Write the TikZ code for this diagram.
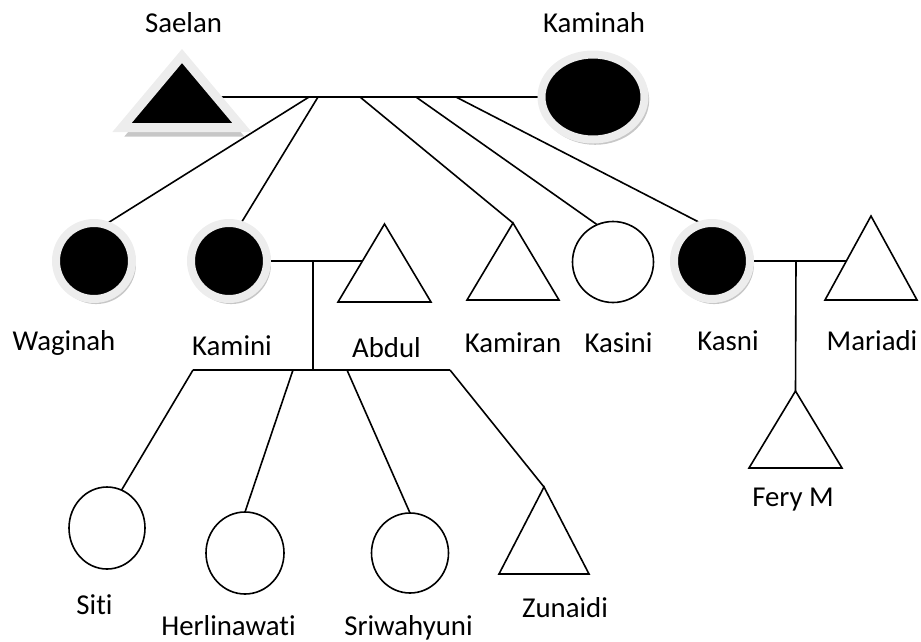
\documentclass[tikz,border=0pt]{standalone}
\usepackage{fontspec}
\setmainfont{Carlito}[Ligatures=NoCommon]
\usetikzlibrary{shapes.geometric,shadows,backgrounds}
\tikzset{%
  person/.style={draw, line width=1.6pt, fill=white, inner sep=0pt, outer sep=0pt},
  woman/.style={person, ellipse},
  man/.style={person, isosceles triangle, isosceles triangle stretches, shape border rotate=90},
  affected/.style={fill=black, draw=black!7, line width=8pt,
    drop shadow={shadow xshift=2pt, shadow yshift=-3pt, shadow scale=1.05, fill=black!22, opacity=1}},
  who/.style={anchor=base, inner sep=0pt},
  link/.style={draw, line width=1.6pt},
}

\begin{document}
\begin{tikzpicture}[x=1pt, y=-1pt, font=\fontsize{28.8}{34}\selectfont]
  \useasboundingbox (0,0) rectangle (921,641);
  % grandparents
  \node (saelan) [man, fill=black, draw=black!7, line width=9pt, minimum width=120pt, minimum height=71.5pt,
    anchor=lower side, drop shadow={shadow yshift=-9pt, fill=black!22, opacity=1}] at (182,127.5) {};
  \node (kaminah) [woman, affected, minimum width=103pt, minimum height=85pt] at (593,97) {};
  \node (t-saelan) [who] at (183.5,32) {Saelan};
  \node (t-kaminah) [who] at (594,32) {Kaminah};

  % children
  \node (waginah) [woman, affected, minimum size=76pt] at (94,261) {};
  \node (kamini) [woman, affected, minimum size=76pt] at (229,261) {};
  \node (abdul) [man, minimum width=93pt, minimum height=78pt, anchor=lower side] at (384.5,302) {};
  \node (kamiran) [man, minimum width=92pt, minimum height=77pt, anchor=lower side] at (513,300) {};
  \node (kasini) [woman, minimum size=81pt] at (613,262) {};
  \node (kasni) [woman, affected, minimum size=76pt] at (712,261) {};
  \node (mariadi) [man, minimum width=92pt, minimum height=84pt, anchor=lower side] at (871,300) {};
  \node (t-waginah) [who] at (64,350) {Waginah};
  \node (t-kamini) [who] at (232,355) {Kamini};
  \node (t-abdul) [who] at (386.5,357) {Abdul};
  \node (t-kamiran) [who] at (513,352) {Kamiran};
  \node (t-kasini) [who] at (618.5,352) {Kasini};
  \node (t-kasni) [who] at (728,350) {Kasni};
  \node (t-mariadi) [who] at (872,350) {Mariadi};

  % grandchildren
  \node (siti) [woman, minimum width=76pt, minimum height=82pt] at (107,528) {};
  \node (herlinawati) [woman, minimum width=78pt, minimum height=82pt] at (245,553) {};
  \node (sriwahyuni) [woman, minimum width=77pt, minimum height=80pt] at (410,553) {};
  \node (zunaidi) [man, minimum width=90pt, minimum height=87pt, anchor=lower side] at (544,574) {};
  \node (fery) [man, minimum width=93pt, minimum height=77pt, anchor=lower side] at (795.5,468) {};
  \node (t-siti) [who] at (94.5,614) {Siti};
  \node (t-herlinawati) [who] at (228.5,635) {Herlinawati};
  \node (t-sriwahyuni) [who] at (408.5,635) {Sriwahyuni};
  \node (t-zunaidi) [who] at (565,617) {Zunaidi};
  \node (t-fery) [who] at (793,506) {Fery M};

  \begin{scope}[on background layer]
    \coordinate (s1) at (309,97);
    \coordinate (s2) at (318,97);
    \coordinate (s3) at (360,97);
    \coordinate (s4) at (416,97);
    \coordinate (s5) at (456,97);
    \path [link] (kaminah) -- (kaminah -| saelan);
    \path [link] (s1) -- (waginah.73);
    \path [link] (s2) -- (kamini.73);
    \path [link] (s3) -- (kamiran.apex);
    \path [link] (s4) -- (kasini.113);
    \path [link] (s5) -- (kasni.104);

    \coordinate (c1) at (313,261);
    \coordinate (c1b) at (313,370);
    \coordinate (b1) at (193,370);
    \coordinate (b2) at (293,370);
    \coordinate (b3) at (347,370);
    \coordinate (b4) at (450,370);
    \path [link] (kamini) -- (kamini -| abdul);
    \path [link] (c1) -- (c1b);
    \path [link] (b1) -- (b4);
    \path [link] (b1) -- (siti.69);
    \path [link] (b2) -- (herlinawati.north);
    \path [link] (b3) -- (sriwahyuni.north);
    \path [link] (b4) -- (zunaidi.apex);

    \coordinate (c2) at (796,261);
    \path [link] (kasni) -- (kasni -| mariadi);
    \path [link] (c2) -- (fery.apex);
  \end{scope}
\end{tikzpicture}
\end{document}
